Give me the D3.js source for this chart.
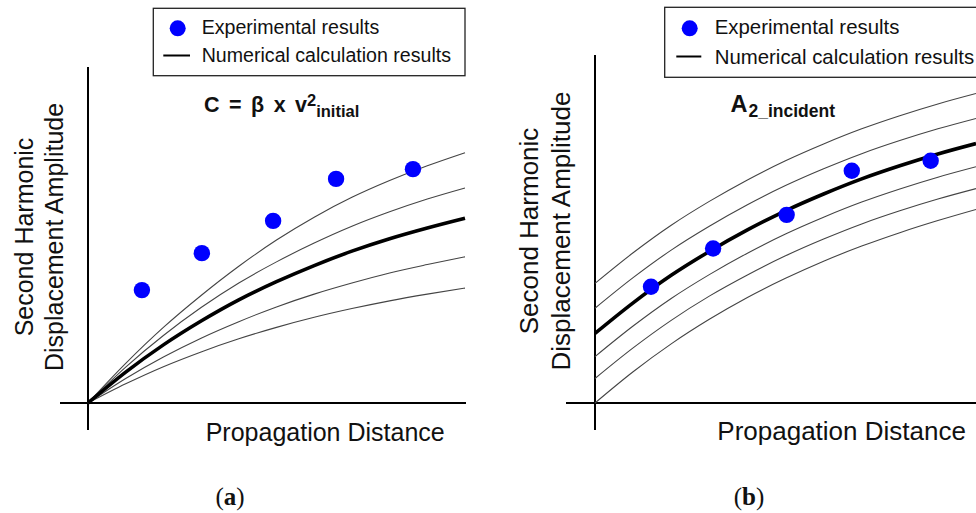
<!DOCTYPE html>
<html>
<head>
<meta charset="utf-8">
<script src="https://cdn.jsdelivr.net/npm/d3@7"></script>
<style>
  html, body { margin: 0; padding: 0; background: #fff; }
  svg { display: block; }
  text { font-family: "Liberation Sans", Arial, sans-serif; fill: #111; }
</style>
</head>
<body>
<svg id="chart" width="976" height="513"></svg>
<script>
// ---------- data ----------
const distance = [0, 1, 2, 3, 4, 5, 6, 7, 8, 9, 10];

// Panel (a): C = beta x v^2 initial
const aCurve1 = [0, 1.18, 2.25, 3.20, 4.07, 4.85, 5.53, 6.12, 6.62, 7.06, 7.45];
const aCurve2 = [0, 1.07, 2.01, 2.84, 3.57, 4.20, 4.76, 5.26, 5.69, 6.07, 6.40];
const aCurveMain = [0, 0.92, 1.73, 2.44, 3.07, 3.61, 4.09, 4.52, 4.89, 5.21, 5.50];
const aCurve4 = [0, 0.73, 1.37, 1.93, 2.42, 2.86, 3.24, 3.57, 3.87, 4.12, 4.35];
const aCurve5 = [0, 0.57, 1.08, 1.52, 1.91, 2.25, 2.55, 2.81, 3.04, 3.24, 3.42];
const aExpX = [1.43, 3.02, 4.91, 6.58, 8.62];
const aExpY = [3.36, 4.46, 5.42, 6.67, 6.96];

// Panel (b): A2_incident
const bCurve1 = [3.56, 4.47, 5.29, 6.00, 6.64, 7.21, 7.71, 8.16, 8.55, 8.90, 9.21];
const bCurve2 = [2.82, 3.73, 4.55, 5.26, 5.90, 6.47, 6.97, 7.42, 7.81, 8.16, 8.47];
const bCurveMain = [2.07, 2.98, 3.80, 4.51, 5.15, 5.72, 6.22, 6.67, 7.06, 7.41, 7.72];
const bCurve4 = [1.38, 2.29, 3.11, 3.82, 4.46, 5.03, 5.53, 5.98, 6.37, 6.72, 7.03];
const bCurve5 = [0.73, 1.64, 2.46, 3.18, 3.81, 4.38, 4.88, 5.33, 5.72, 6.07, 6.38];
const bCurve6 = [0, 0.93, 1.76, 2.49, 3.14, 3.71, 4.22, 4.67, 5.07, 5.43, 5.76];
const bExpX = [1.47, 3.10, 5.03, 6.74, 8.81];
const bExpY = [3.46, 4.60, 5.60, 6.91, 7.21];

const legendLabels = ["Experimental results", "Numerical calculation results"];
const yLabelLines = ["Second Harmonic", "Displacement Amplitude"];
const xLabel = "Propagation Distance";
const captions = ["a", "b"];

// ---------- layout ----------
const svg = d3.select("#chart");

const panels = [
  {
    x0: 88, x1: 465, yAxisTop: 67, yAxisBottom: 430, xAxisLeft: 60, xAxisRight: 466,
    thin: [aCurve1, aCurve2, aCurve4, aCurve5], main: aCurveMain,
    expX: aExpX, expY: aExpY,
    legend: { x: 153.3, y: 8.3, w: 311.7, h: 67.4, dotX: 177.7, lineX0: 163.3, lineX1: 190, textX: 201.7, fs: 19.6, b1: 34, b2: 62, dotY: 28.3, lineY: 55.5 },
    yLab: { cx: 237, base1: 33, base2: 63, fs: 25 },
    xLab: { x: 205.7, base: 440.7, fs: 25 },
    caption: { x: 230, base: 505 },
    title: "a"
  },
  {
    x0: 595, x1: 976, yAxisTop: 55, yAxisBottom: 430, xAxisLeft: 566, xAxisRight: 976,
    thin: [bCurve1, bCurve2, bCurve4, bCurve5, bCurve6], main: bCurveMain,
    expX: bExpX, expY: bExpY,
    legend: { x: 664.7, y: 7.3, w: 340, h: 70, dotX: 689.7, lineX0: 676.3, lineX1: 701.3, textX: 714.7, fs: 20.4, b1: 34, b2: 63.5, dotY: 28.3, lineY: 56.5 },
    yLab: { cx: 231, base1: 538, base2: 569.5, fs: 26 },
    xLab: { x: 717.3, base: 440.3, fs: 26 },
    caption: { x: 749, base: 505 },
    title: "b"
  }
];

panels.forEach((p, pi) => {
  const g = svg.append("g");
  const x = d3.scaleLinear().domain([0, 10]).range([p.x0, p.x1]);
  const y = d3.scaleLinear().domain([0, 10]).range([403, 67]);

  // axes
  g.append("line").attr("x1", p.x0).attr("x2", p.x0)
    .attr("y1", p.yAxisTop).attr("y2", p.yAxisBottom)
    .attr("stroke", "#000").attr("stroke-width", 2);
  g.append("line").attr("x1", p.xAxisLeft).attr("x2", p.xAxisRight)
    .attr("y1", y(0)).attr("y2", y(0))
    .attr("stroke", "#000").attr("stroke-width", 2);

  const line = d3.line()
    .x((d, i) => x(distance[i]))
    .y(d => y(d))
    .curve(d3.curveMonotoneX);

  p.thin.forEach(c => {
    g.append("path").attr("d", line(c)).attr("fill", "none")
      .attr("stroke", "#444").attr("stroke-width", 1.1);
  });
  g.append("path").attr("d", line(p.main)).attr("fill", "none")
    .attr("stroke", "#000").attr("stroke-width", 3.6);

  g.selectAll("circle.exp").data(p.expX).enter().append("circle")
    .attr("class", "exp")
    .attr("cx", d => x(d))
    .attr("cy", (d, i) => y(p.expY[i]))
    .attr("r", 8.2)
    .attr("fill", "#0000ff");

  // legend
  const L = p.legend;
  g.append("rect").attr("x", L.x).attr("y", L.y).attr("width", L.w).attr("height", L.h)
    .attr("fill", "#fff").attr("stroke", "#222").attr("stroke-width", 1.3);
  g.append("circle").attr("cx", L.dotX).attr("cy", L.dotY).attr("r", 8).attr("fill", "#0000ff");
  g.append("line").attr("x1", L.lineX0).attr("x2", L.lineX1).attr("y1", L.lineY).attr("y2", L.lineY)
    .attr("stroke", "#000").attr("stroke-width", 2);
  g.append("text").attr("x", L.textX).attr("y", L.b1).attr("font-size", L.fs).text(legendLabels[0]);
  g.append("text").attr("x", L.textX).attr("y", L.b2).attr("font-size", L.fs).text(legendLabels[1]);

  // y label (rotated)
  const Y = p.yLab;
  [Y.base1, Y.base2].forEach((bx, li) => {
    g.append("text")
      .attr("transform", `translate(${bx},${Y.cx}) rotate(-90)`)
      .attr("text-anchor", "middle")
      .attr("font-size", Y.fs)
      .text(yLabelLines[li]);
  });

  // x label
  g.append("text").attr("x", p.xLab.x).attr("y", p.xLab.base)
    .attr("font-size", p.xLab.fs).text(xLabel);

  // caption
  const cap = g.append("text").attr("x", p.caption.x).attr("y", p.caption.base)
    .attr("text-anchor", "middle")
    .style("font-family", "'Liberation Serif', 'DejaVu Serif', serif")
    .attr("font-size", 25);
  cap.append("tspan").text("(");
  cap.append("tspan").attr("font-weight", "bold").text(captions[pi]);
  cap.append("tspan").text(")");
});

// titles
const tA = svg.append("text").attr("x", 204).attr("y", 112)
  .attr("font-size", 21.5).attr("font-weight", "bold").attr("word-spacing", 3.5);
tA.append("tspan").text("C = β x v");
tA.append("tspan").attr("font-size", 16.5).attr("dy", -6.5).text("2");
tA.append("tspan").attr("font-size", 16.5).attr("dy", 11.8).text("initial");

const tB = svg.append("text").attr("x", 730.5).attr("y", 111.7)
  .attr("font-size", 23.5).attr("font-weight", "bold");
tB.append("tspan").text("A");
tB.append("tspan").attr("font-size", 17.5).attr("dy", 5.3).attr("dx", 1).text("2_incident");
</script>
</body>
</html>
